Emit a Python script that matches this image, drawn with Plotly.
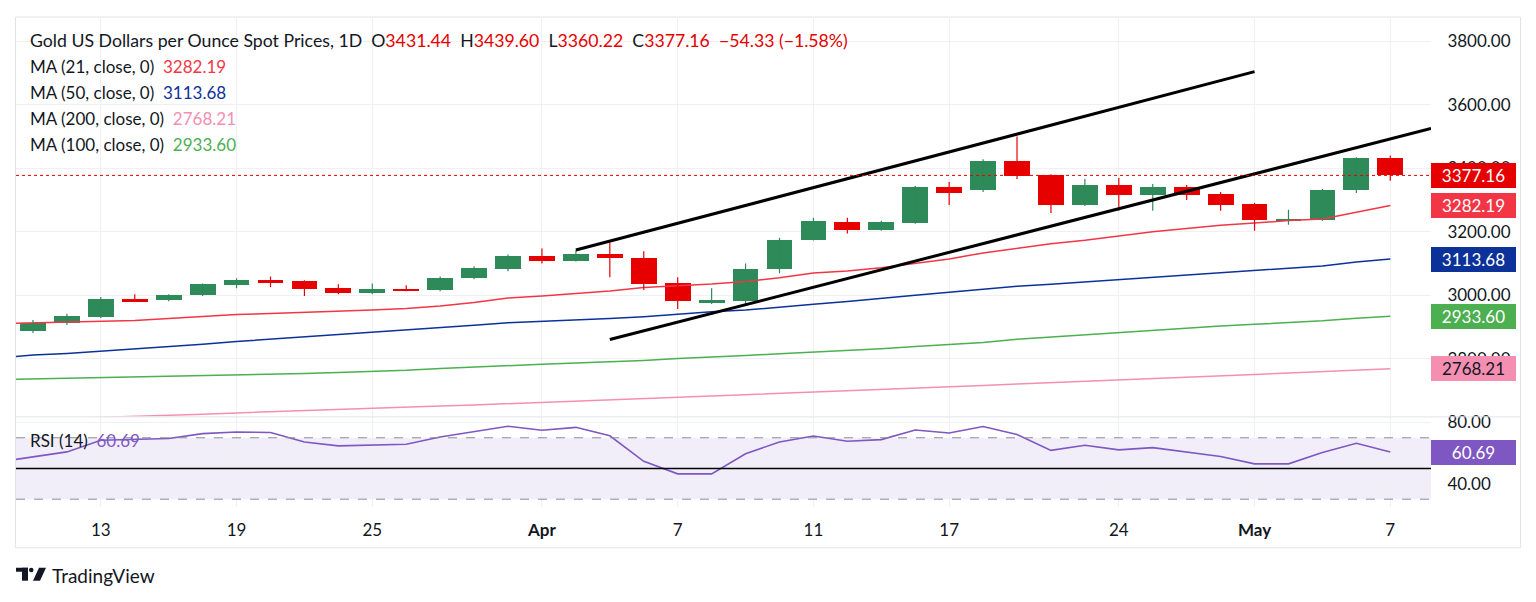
import plotly.graph_objects as go

# Daily candles, 11 Mar - 7 May (trading-day index 0..40)
opens = [2887.5, 2912, 2931, 2987, 2984, 3000, 3031, 3047, 3044, 3022, 3006, 3019, 3016, 3053, 3081,
         3122, 3109, 3131, 3116, 3037, 2978, 2981, 3081, 3175, 3231, 3206, 3228, 3341, 3331, 3422,
         3378, 3284, 3347, 3316, 3341, 3319, 3288, 3234, 3238, 3331, 3431.44]
highs = [2922, 2941, 2994, 3003, 3003, 3037, 3053, 3059, 3047, 3034, 3037, 3031, 3059, 3091, 3128,
         3147, 3141, 3166, 3138, 3056, 3022, 3100, 3181, 3244, 3244, 3234, 3344, 3356, 3428, 3500,
         3381, 3366, 3369, 3350, 3347, 3325, 3291, 3269, 3334, 3434, 3439.60]
lows = [2881, 2906, 2928, 2978, 2981, 2997, 3022, 3025, 2997, 3003, 3003, 3012, 3012, 3050, 3075,
        3100, 3106, 3056, 3016, 2956, 2972, 2972, 3069, 3172, 3194, 3203, 3225, 3284, 3325, 3366,
        3259, 3281, 3266, 3266, 3300, 3266, 3203, 3222, 3234, 3322, 3360.22]
closes = [2912.5, 2934, 2987, 2981, 3000, 3034, 3047, 3041, 3019, 3006, 3019, 3016, 3053, 3084, 3122,
          3109, 3131, 3116, 3034, 2981, 2984, 3081, 3175, 3234, 3206, 3231, 3341, 3322, 3422, 3375,
          3284, 3347, 3316, 3341, 3316, 3284, 3238, 3241, 3331, 3431.49, 3377.16]

# indicator values, first entry is the day before the first candle (10 Mar)
ind_idx = list(range(-1, 41))
ma21 = [2910, 2912, 2914, 2917, 2920, 2926, 2932, 2939, 2942, 2945, 2949, 2953, 2958, 2966, 2977,
        2991, 2997, 3004, 3013, 3024, 3029, 3035, 3043, 3055, 3070, 3076, 3086, 3099, 3114, 3133,
        3147, 3162, 3173, 3186, 3200, 3210, 3220, 3227, 3235, 3240, 3262, 3282.19]
ma50 = [2803, 2811, 2816, 2823, 2830, 2838, 2845, 2854, 2861, 2868, 2876, 2883, 2890, 2897, 2905,
        2913, 2917, 2922, 2926, 2932, 2940, 2948, 2953, 2961, 2971, 2980, 2991, 3000, 3009, 3019,
        3028, 3034, 3041, 3048, 3055, 3064, 3071, 3078, 3085, 3092, 3104, 3113.68]
ma100 = [2734, 2736, 2737, 2740, 2742, 2744, 2746, 2748, 2750, 2753, 2756, 2759, 2763, 2769, 2774,
         2779, 2782, 2786, 2789, 2794, 2800, 2804, 2810, 2815, 2820, 2825, 2831, 2838, 2844, 2851,
         2861, 2868, 2876, 2883, 2890, 2897, 2903, 2908, 2913, 2919, 2927, 2933.60]
ma200 = [2605, 2608, 2611, 2614, 2618, 2622, 2625, 2629, 2633, 2636, 2640, 2643, 2647, 2651, 2654,
         2658, 2661, 2665, 2669, 2674, 2678, 2682, 2685, 2690, 2694, 2698, 2702, 2706, 2711, 2715,
         2720, 2724, 2728, 2732, 2737, 2741, 2746, 2750, 2755, 2759, 2764, 2768.21]
rsi = [54.3, 57.5, 60.8, 68.4, 68.9, 69.5, 72.7, 73.8, 73.4, 67.3, 64.7, 65.1, 65.8, 70.5, 74.0,
       77.5, 74.9, 76.8, 71.3, 54.7, 46.5, 46.5, 59.6, 67.3, 71.2, 67.7, 68.8, 75.1, 73.1, 77.3,
       72.1, 61.8, 65.1, 62.1, 63.6, 60.8, 57.8, 53.0, 53.0, 60.4, 66.4, 60.69]

# drawn channel (trading-day index, price)
chan_up_idx = [16, 36]
chan_up_px = [3142, 3704]
chan_lo_idx = [17, 41.2]
chan_lo_px = [2860, 3525]

tick_idx = [2, 6, 10, 15, 19, 23, 27, 32, 36, 40]
tick_txt = ["13", "19", "25", "<b>Apr</b>", "7", "11", "17", "24", "<b>May</b>", "7"]
price_ticks = [2800, 3000, 3200, 3400, 3600, 3800]
rsi_ticks = [40, 80]

UP = "#2e8a58"
DOWN = "#e60000"
FONT = "Lato"
TXT = "#131722"
GRID = "#eef0f4"

n = len(opens)
idx = list(range(n))

fig = go.Figure()

# moving averages
for vals, col in [(ma200, "#f48fb1"), (ma100, "#4caf50"), (ma50, "#0c3299"), (ma21, "#f23645")]:
    fig.add_trace(go.Scatter(x=ind_idx, y=vals, mode="lines", line=dict(color=col, width=1.5),
                             hoverinfo="skip"))

# wicks
for up, col in [(True, UP), (False, DOWN)]:
    wx, wy = [], []
    for i in idx:
        if (closes[i] >= opens[i]) == up:
            wx += [i, i, None]
            wy += [lows[i], highs[i], None]
    fig.add_trace(go.Scatter(x=wx, y=wy, mode="lines", line=dict(color=col, width=1.2),
                             hoverinfo="skip"))

# bodies
for up, col in [(True, UP), (False, DOWN)]:
    bx, bh, bb = [], [], []
    for i in idx:
        if (closes[i] >= opens[i]) == up:
            bx.append(i)
            bh.append(max(abs(closes[i] - opens[i]), 3))
            bb.append(min(opens[i], closes[i]))
    fig.add_trace(go.Bar(x=bx, y=bh, base=bb, width=0.76, marker=dict(color=col, line=dict(width=0)),
                         hoverinfo="skip"))

# channel lines
fig.add_trace(go.Scatter(x=chan_up_idx, y=chan_up_px, mode="lines", line=dict(color="black", width=3),
                         hoverinfo="skip"))
fig.add_trace(go.Scatter(x=chan_lo_idx, y=chan_lo_px, mode="lines", line=dict(color="black", width=3),
                         hoverinfo="skip"))

# RSI
fig.add_trace(go.Scatter(x=ind_idx, y=rsi, mode="lines", line=dict(color="#7e57c2", width=1.6),
                         xaxis="x2", yaxis="y2", hoverinfo="skip"))

# pixel helpers for decorations (plot area 16..1431 x 16..507)
def px_x(p):
    return (p - 16) / 1415

def px_y(p):
    return (507 - p) / 491

shapes = [
    dict(type="rect", xref="x2 domain", x0=0, x1=1, yref="y2", y0=30, y1=70,
         fillcolor="rgba(126,87,194,0.1)", line=dict(width=0), layer="below"),
    dict(type="line", xref="x2 domain", x0=0, x1=1, yref="y2", y0=70, y1=70,
         line=dict(color="#8a8d96", width=1, dash="dash")),
    dict(type="line", xref="x2 domain", x0=0, x1=1, yref="y2", y0=30, y1=30,
         line=dict(color="#8a8d96", width=1, dash="dash")),
    dict(type="line", xref="x2 domain", x0=0, x1=1, yref="y2", y0=50, y1=50,
         line=dict(color="black", width=1.5)),
    dict(type="line", xref="x domain", x0=0, x1=1, yref="y", y0=closes[-1], y1=closes[-1],
         line=dict(color=DOWN, width=1, dash="dot")),
    # pane separator and frame
    dict(type="line", xref="paper", yref="paper", x0=px_x(16), x1=px_x(1520), y0=px_y(416.5), y1=px_y(416.5),
         line=dict(color="#e0e3eb", width=1)),
    dict(type="rect", xref="paper", yref="paper", x0=px_x(15.5), x1=px_x(1520.5), y0=px_y(548), y1=px_y(15),
         line=dict(color="#e0e3eb", width=1)),
    # TradingView logo
    dict(type="rect", xref="paper", yref="paper", x0=px_x(16), x1=px_x(28), y0=px_y(572), y1=px_y(568),
         fillcolor=TXT, line=dict(width=0)),
    dict(type="rect", xref="paper", yref="paper", x0=px_x(22), x1=px_x(28), y0=px_y(581), y1=px_y(568),
         fillcolor=TXT, line=dict(width=0)),
    dict(type="circle", xref="paper", yref="paper", x0=px_x(29), x1=px_x(33.5), y0=px_y(572.5), y1=px_y(568),
         fillcolor=TXT, line=dict(width=0)),
    dict(type="path", xref="paper", yref="paper",
         path="M %f %f L %f %f L %f %f L %f %f Z" % (px_x(33), px_y(581), px_x(40), px_y(581),
                                                    px_x(46), px_y(568), px_x(39), px_y(568)),
         fillcolor=TXT, line=dict(width=0)),
]

ann = []
chg = closes[-1] - closes[-2]
pct = chg / closes[-2] * 100
red = lambda s: "<span style='color:%s'>%s</span>" % (DOWN, s)
sp = "&nbsp;&nbsp;"
title = ("Gold US Dollars per Ounce Spot Prices, 1D" + sp + "O" + red("%.2f" % opens[-1]) + sp +
         "H" + red("%.2f" % highs[-1]) + sp + "L" + red("%.2f" % lows[-1]) + sp +
         "C" + red("%.2f" % closes[-1]) + sp + red("%.2f (%.2f%%)" % (chg, pct)).replace("-", "\u2212"))
ann.append(dict(text=title, x=px_x(28), y=px_y(39), xref="paper", yref="paper", xanchor="left",
                yanchor="middle", showarrow=False, font=dict(size=17.7, color=TXT, family=FONT)))

legend_rows = [("MA (21, close, 0)", ma21[-1], "#f23645", 65),
               ("MA (50, close, 0)", ma50[-1], "#0c3299", 91),
               ("MA (200, close, 0)", ma200[-1], "#f48fb1", 117),
               ("MA (100, close, 0)", ma100[-1], "#4caf50", 143)]
for lab, v, col, py in legend_rows:
    ann.append(dict(text=lab + sp + "<span style='color:%s'>%.2f</span>" % (col, v), x=px_x(28), y=px_y(py),
                    xref="paper", yref="paper", xanchor="left", yanchor="middle", showarrow=False,
                    font=dict(size=17, color=TXT, family=FONT)))
ann.append(dict(text="RSI (14)" + sp + "<span style='color:#7e57c2'>%.2f</span>" % rsi[-1], x=px_x(28),
                y=px_y(440), xref="paper", yref="paper", xanchor="left", yanchor="middle", showarrow=False,
                font=dict(size=17, color=TXT, family=FONT)))
ann.append(dict(text="TradingView", x=px_x(50), y=px_y(576), xref="paper", yref="paper", xanchor="left",
                yanchor="middle", showarrow=False, font=dict(size=19, color=TXT, family=FONT)))

# price tags on the right scale
tags = [(closes[-1], DOWN, "white", "y"), (ma21[-1], "#f23645", "white", "y"),
        (ma50[-1], "#0c3299", "white", "y"), (ma100[-1], "#4caf50", "white", "y"),
        (ma200[-1], "#f48fb1", TXT, "y"), (rsi[-1], "#7e57c2", "white", "y2")]
for v, bg, fc, yr in tags:
    ann.append(dict(text="%.2f" % v, x=1, y=v, xref="paper", yref=yr, xanchor="left", yanchor="middle",
                    showarrow=False, bgcolor=bg, bordercolor=bg, borderwidth=1, borderpad=2,
                    width=79, height=19, align="center", font=dict(size=17, color=fc, family=FONT)))

axis_font = dict(size=17, color=TXT, family=FONT)
fig.update_layout(
    width=1536, height=602,
    margin=dict(l=16, r=105, t=16, b=95),
    paper_bgcolor="white", plot_bgcolor="white",
    showlegend=False, barmode="overlay", bargap=0,
    shapes=shapes, annotations=ann,
    xaxis=dict(domain=[0, 1], range=[-0.5, 41.2], anchor="y", tickvals=tick_idx, showticklabels=False,
               showgrid=True, gridcolor=GRID, zeroline=False, showline=False, ticks=""),
    xaxis2=dict(domain=[0, 1], range=[-0.5, 41.2], anchor="y2", matches="x", tickvals=tick_idx,
                ticktext=tick_txt, showgrid=True, gridcolor=GRID, zeroline=False, showline=False,
                ticks="outside", ticklen=8, tickcolor="rgba(0,0,0,0)", tickfont=axis_font),
    yaxis=dict(domain=[0.1853, 1], range=[2618, 3873], anchor="x", side="right", tickvals=price_ticks,
               ticktext=["%.2f" % t for t in price_ticks], showgrid=True, gridcolor=GRID, zeroline=False,
               ticks="outside", ticklen=12, tickcolor="rgba(0,0,0,0)", tickfont=axis_font),
    yaxis2=dict(domain=[0, 0.1833], range=[24.9, 83.3], anchor="x2", side="right", tickvals=rsi_ticks,
                ticktext=["%.2f" % t for t in rsi_ticks], showgrid=True, gridcolor=GRID, zeroline=False,
                ticks="outside", ticklen=12, tickcolor="rgba(0,0,0,0)", tickfont=axis_font),
)

# drop the browser's default page margin so the figure sits at the window's corner
fig.write_html("out.html", config={"displayModeBar": False},
               post_script="document.body.style.margin='0';document.body.style.overflow='hidden';")
